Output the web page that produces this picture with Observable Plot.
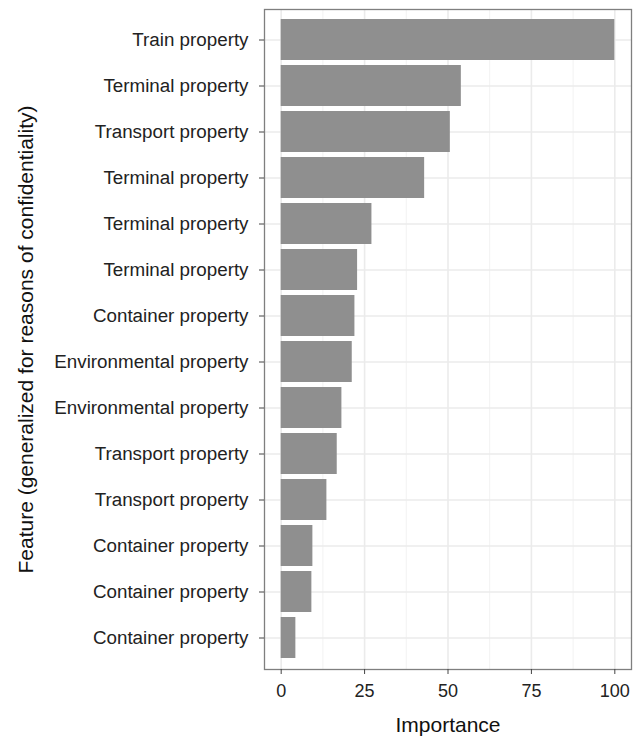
<!DOCTYPE html>
<html>
<head>
<meta charset="utf-8">
<script src="https://cdn.jsdelivr.net/npm/d3@7"></script>
<script src="https://cdn.jsdelivr.net/npm/@observablehq/plot@0.6"></script>
<style>
  html, body { margin: 0; padding: 0; background: #fff; }
</style>
</head>
<body>
<div id="chart"></div>
<script>
const features = [
  "Train property",
  "Terminal property",
  "Transport property",
  "Terminal property",
  "Terminal property",
  "Terminal property",
  "Container property",
  "Environmental property",
  "Environmental property",
  "Transport property",
  "Transport property",
  "Container property",
  "Container property",
  "Container property"
];
const importance = [100, 54.0, 50.7, 43.0, 27.2, 22.9, 22.1, 21.3, 18.2, 16.8, 13.7, 9.5, 9.2, 4.4];
const majorTicks = [0, 25, 50, 75, 100];
const minorTicks = [12.5, 37.5, 62.5, 87.5];
const xTitle = "Importance";
const yTitle = "Feature (generalized for reasons of confidentiality)";

const data = features.map((f, i) => ({idx: i, feature: f, value: importance[i]}));

const chart = Plot.plot({
  width: 638,
  height: 737,
  marginLeft: 264,
  marginRight: 7,
  marginTop: 9,
  marginBottom: 68,
  style: {fontFamily: "'Liberation Sans', Arial, Helvetica, sans-serif", color: "#333", background: "#fff"},
  x: {domain: [-5, 105]},
  y: {type: "band", domain: d3.range(features.length), paddingInner: 0.1, paddingOuter: 0.15},
  marks: [
    Plot.ruleX(minorTicks, {stroke: "#f2f2f2", strokeWidth: 1}),
    Plot.ruleX(majorTicks, {stroke: "#ebebeb", strokeWidth: 1.6}),
    Plot.gridY({stroke: "#ebebeb", strokeOpacity: 1, strokeWidth: 1.6}),
    Plot.barX(data, {x: "value", y: "idx", fill: "#8f8f8f"}),
    Plot.frame({stroke: "#7f7f7f", strokeWidth: 1.3}),
    Plot.axisX(majorTicks, {tickSize: 5, tickPadding: 10, fontSize: 18, label: null, stroke: "#444", fill: "#222"}),
    Plot.axisY({tickFormat: i => features[i], tickSize: 5, tickPadding: 11, fontSize: 18.8, label: null, stroke: "#444", fill: "#222"}),
    Plot.text([xTitle], {frameAnchor: "bottom", dy: 62, lineAnchor: "bottom", fontSize: 21, fill: "#111"}),
    Plot.text([yTitle], {frameAnchor: "left", textAnchor: "middle", dx: -232, rotate: -90, lineAnchor: "bottom", fontSize: 21, fill: "#111"})
  ]
});
document.getElementById("chart").appendChild(chart);
</script>
</body>
</html>
